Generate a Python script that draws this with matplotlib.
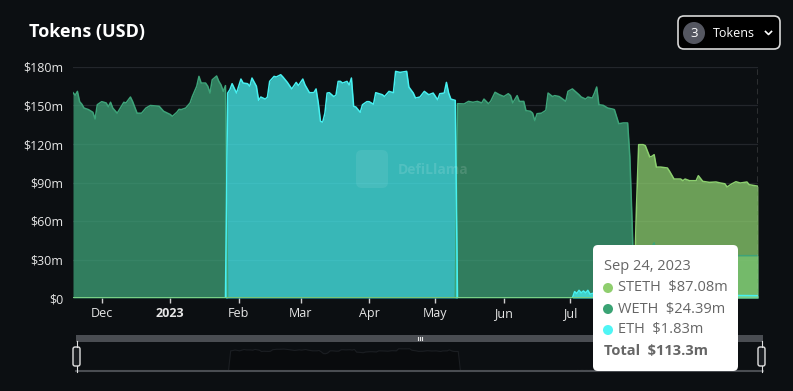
import numpy as np
import pandas as pd
import matplotlib
matplotlib.use('Agg')
import matplotlib.pyplot as plt
import matplotlib.dates as mdates
from matplotlib.patches import FancyBboxPatch, Circle, Rectangle

plt.rcParams['font.family'] = ['Open Sans', 'DejaVu Sans']

# ==============================
# data (USD millions)
# ==============================
weth_dates = ['2022-11-18', '2022-11-19', '2022-11-20', '2022-11-21', '2022-11-22', '2022-11-23',
              '2022-11-25', '2022-11-27', '2022-11-28', '2022-11-29', '2022-12-01', '2022-12-03',
              '2022-12-04', '2022-12-05', '2022-12-06', '2022-12-08', '2022-12-09', '2022-12-11',
              '2022-12-12', '2022-12-14', '2022-12-15', '2022-12-17', '2022-12-19', '2022-12-21',
              '2022-12-23', '2022-12-27', '2022-12-29', '2023-01-01', '2023-01-02', '2023-01-04',
              '2023-01-05', '2023-01-06', '2023-01-08', '2023-01-10', '2023-01-11', '2023-01-13',
              '2023-01-14', '2023-01-15', '2023-01-17', '2023-01-18', '2023-01-19', '2023-01-20',
              '2023-01-22', '2023-01-23', '2023-01-24', '2023-01-25', '2023-01-26', '2023-01-27',
              '2023-05-10', '2023-05-11', '2023-05-14', '2023-05-16', '2023-05-18', '2023-05-20',
              '2023-05-22', '2023-05-23', '2023-05-25', '2023-05-26', '2023-05-28', '2023-05-30',
              '2023-06-01', '2023-06-03', '2023-06-04', '2023-06-05', '2023-06-07', '2023-06-08',
              '2023-06-10', '2023-06-11', '2023-06-13', '2023-06-14', '2023-06-15', '2023-06-16',
              '2023-06-18', '2023-06-20', '2023-06-21', '2023-06-23', '2023-06-24', '2023-06-26',
              '2023-06-27', '2023-06-29', '2023-06-30', '2023-07-02', '2023-07-05', '2023-07-06',
              '2023-07-08', '2023-07-09', '2023-07-11', '2023-07-12', '2023-07-13', '2023-07-14',
              '2023-07-16', '2023-07-18', '2023-07-20', '2023-07-21', '2023-07-23', '2023-07-25',
              '2023-07-27', '2023-07-28', '2023-07-29', '2023-07-30', '2023-08-03', '2023-08-07',
              '2023-08-08', '2023-08-09', '2023-08-20', '2023-09-05', '2023-09-15', '2023-09-24']
weth_vals = [160, 158, 161, 153, 151, 148,
             146.8, 144.7, 139.5, 150.6, 153, 152,
             149, 152.5, 148, 144, 146.8, 152.5,
             152, 156.6, 153, 144, 144, 148,
             150, 149.4, 145.5, 143, 141.6, 144.7,
             147, 146.8, 148, 152, 157, 165,
             172.7, 167.5, 167.5, 165, 159.7, 170,
             173, 168.8, 166, 161, 165.5, 0,
             0, 151.4, 151.2, 153.2, 152.5, 153.2,
             152, 155, 151.4, 153.2, 160.3, 158.4,
             157, 159.2, 157.7, 152, 157.7, 153.2,
             153.2, 146, 145.5, 144, 138.2, 143.6,
             144, 146.2, 159.7, 157, 157.7, 157,
             155.8, 153.2, 161, 162.9, 158.4, 156.6,
             155, 156.6, 155.8, 159.7, 164.4, 150.6,
             150.1, 148, 147.3, 146.8, 135.8, 136.4,
             136.4, 110, 60, 5, 3, 40,
             43, 33, 31, 32, 33, 33]

eth_dates = ['2022-11-18', '2023-01-26', '2023-01-27', '2023-01-28', '2023-01-29', '2023-01-31',
             '2023-02-02', '2023-02-03', '2023-02-05', '2023-02-06', '2023-02-07', '2023-02-09',
             '2023-02-10', '2023-02-11', '2023-02-13', '2023-02-14', '2023-02-15', '2023-02-17',
             '2023-02-18', '2023-02-20', '2023-02-21', '2023-02-23', '2023-02-25', '2023-02-27',
             '2023-02-28', '2023-03-02', '2023-03-03', '2023-03-05', '2023-03-07', '2023-03-08',
             '2023-03-09', '2023-03-10', '2023-03-11', '2023-03-12', '2023-03-13', '2023-03-14',
             '2023-03-16', '2023-03-17', '2023-03-18', '2023-03-19', '2023-03-20', '2023-03-22',
             '2023-03-23', '2023-03-24', '2023-03-25', '2023-03-26', '2023-03-28', '2023-03-29',
             '2023-03-31', '2023-04-01', '2023-04-03', '2023-04-04', '2023-04-07', '2023-04-08',
             '2023-04-10', '2023-04-12', '2023-04-13', '2023-04-15', '2023-04-18', '2023-04-19',
             '2023-04-21', '2023-04-22', '2023-04-24', '2023-04-26', '2023-04-28', '2023-04-30',
             '2023-05-02', '2023-05-03', '2023-05-05', '2023-05-06', '2023-05-07', '2023-05-08',
             '2023-05-10', '2023-05-11', '2023-07-02', '2023-07-03', '2023-07-04', '2023-07-05',
             '2023-07-06', '2023-07-07', '2023-07-08', '2023-07-09', '2023-07-10', '2023-07-12',
             '2023-07-20', '2023-08-10', '2023-09-24']
eth_vals = [0, 0, 159.7, 162.3, 167, 159.7,
            170.6, 167.5, 167, 165, 171.4, 165,
            154, 156.6, 155, 156.6, 168.8, 172.7,
            172.2, 174, 172.2, 168, 162.9, 168,
            165.5, 170.6, 166, 160, 160, 162.9,
            152, 137.7, 137, 144, 159.7, 160,
            157, 158, 168.8, 168.8, 167.5, 168.8,
            166, 171.4, 149.4, 148.8, 144.7, 150.6,
            153, 153, 151, 160, 158.4, 157,
            161, 160, 176.6, 175.8, 176.6, 164.4,
            159.7, 155.8, 156.6, 161, 158.4, 159.7,
            154.5, 159.2, 159.7, 168, 159.7, 155,
            154, 0, 0, 5, 3.5, 6,
            4, 5.5, 4, 6, 3, 4,
            3, 2.5, 1.8]

steth_dates = ['2022-11-18', '2023-07-29', '2023-07-30', '2023-07-31', '2023-08-01', '2023-08-03',
               '2023-08-04', '2023-08-06', '2023-08-07', '2023-08-08', '2023-08-09', '2023-08-11',
               '2023-08-14', '2023-08-15', '2023-08-17', '2023-08-20', '2023-08-21', '2023-08-22',
               '2023-08-24', '2023-08-27', '2023-08-28', '2023-08-30', '2023-09-02', '2023-09-05',
               '2023-09-07', '2023-09-09', '2023-09-10', '2023-09-12', '2023-09-14', '2023-09-16',
               '2023-09-19', '2023-09-20', '2023-09-24']
steth_vals = [0, 0, 10, 70, 119.5, 119.5,
              118.7, 109.9, 110.4, 111.7, 102, 102,
              101.3, 98.7, 92.7, 92.7, 91.4, 92.7,
              91.4, 91.4, 95.3, 90.9, 90.1, 90.4,
              89.6, 89, 86.5, 88.8, 90.6, 89.6,
              90.4, 88.3, 87.1]

# Aug / Sep ticks sit under the tooltip, their labels are hidden there
month_ticks = ['2022-12-01', '2023-01-01', '2023-02-01', '2023-03-01', '2023-04-01',
               '2023-05-01', '2023-06-01', '2023-07-01', '2023-08-01', '2023-09-01']
month_labels = ['Dec', '2023', 'Feb', 'Mar', 'Apr', 'May', 'Jun', 'Jul', '', '']

tooltip_rows = [('STETH', '$87.08m', '#8fce6e'),
                ('WETH', '$24.39m', '#3aa374'),
                ('ETH', '$1.83m', '#4ff5f5')]

# ==============================
# figure
# ==============================
W, H = 793, 391
BG = '#0c0f12'
fig = plt.figure(figsize=(W / 100, H / 100), dpi=100)
fig.patch.set_facecolor(BG)

ax = fig.add_axes([73 / W, 1 - 298 / H, 685 / W, 231 / H])
ax.set_facecolor(BG)

series = [(weth_dates, weth_vals, '#3ea379'),
          (eth_dates, eth_vals, '#47f0f0'),
          (steth_dates, steth_vals, '#8ccf6f')]
for dates, vals, col in series:
    d = pd.to_datetime(dates)
    ax.fill_between(d, vals, 0, color=col, alpha=0.75, lw=0, zorder=2)
    ax.plot(d, vals, color=col, lw=1.1, zorder=3)

ax.set_ylim(0, 180)
ax.set_xlim(pd.Timestamp('2022-11-18'), pd.Timestamp('2023-09-24'))
ax.set_yticks(np.arange(0, 181, 30))
ax.set_yticklabels(['$0'] + [f'${v}m' for v in range(30, 181, 30)])
ax.grid(axis='y', color='#23262b', lw=0.9, zorder=1)
ax.set_axisbelow(True)
for s in ax.spines.values():
    s.set_visible(False)
ax.tick_params(axis='y', length=0, pad=7, labelsize=9, labelcolor='#e6e6e6')
ax.set_xticks(pd.to_datetime(month_ticks))
ax.set_xticklabels(month_labels)
ax.tick_params(axis='x', length=3.5, width=1, color='#d0d0d0', pad=3,
               labelsize=9, labelcolor='#e6e6e6')
for lab in ax.get_xticklabels():
    if lab.get_text() == '2023':
        lab.set_fontweight('bold')
ax.axvline(pd.Timestamp('2023-09-24'), color='#b5b5b5', lw=1, ls=(0, (4, 3)), zorder=4)

# mini chart in the brush
bx = fig.add_axes([76 / W, 1 - 371 / H, 685 / W, 29 / H])
bx.set_facecolor('#0e1114')
bd = pd.to_datetime(eth_dates)
bx.fill_between(bd, eth_vals, 0, color='#090b0d', lw=0)
bx.plot(bd, eth_vals, color='#1b1e22', lw=0.8)
bx.set_xlim(pd.Timestamp('2022-11-18'), pd.Timestamp('2023-09-24'))
bx.set_ylim(0, 230)
bx.axis('off')

# overlay in pixel coords
ov = fig.add_axes([0, 0, 1, 1], zorder=5)
ov.set_xlim(0, W)
ov.set_ylim(H, 0)
ov.axis('off')
ov.patch.set_alpha(0)

ov.text(29, 32, 'Tokens (USD)', color='white', fontsize=13, fontweight='bold', va='center')

# token selector button
ov.add_patch(FancyBboxPatch((678, 16), 102, 33, boxstyle='round,pad=0,rounding_size=6',
                            fc='#000000', ec='#d8d8d8', lw=1.2))
ov.add_patch(Circle((694, 33), 11, fc='#555761', ec='none'))
ov.text(694, 33.5, '3', color='white', fontsize=9.5, ha='center', va='center')
ov.text(713, 33.5, 'Tokens', color='white', fontsize=9, va='center')
ov.plot([765.5, 768.5, 771.5], [31.5, 34.5, 31.5], color='white', lw=1.2)

# watermark
ov.add_patch(FancyBboxPatch((356, 150), 32, 38, boxstyle='round,pad=0,rounding_size=6',
                            fc='white', ec='none', alpha=0.08))
ov.text(398, 170, 'DefiLlama', color='white', alpha=0.13, fontsize=10, fontweight='bold', va='center')

# brush frame
ov.add_patch(Rectangle((76, 335), 687, 6.5, fc='#4a4d52', ec='none'))
ov.plot([76, 763], [371, 371], color='#4a4d52', lw=1.5)
for hx in (76.5, 761.5):
    ov.add_patch(FancyBboxPatch((hx - 3.5, 347), 7, 19, boxstyle='round,pad=0,rounding_size=2',
                                fc='#1a1d21', ec='#e0e0e0', lw=1))
    ov.plot([hx, hx], [341, 347], color='#e0e0e0', lw=0.8)
    ov.plot([hx, hx], [366, 372], color='#e0e0e0', lw=0.8)
for gx in (417.5, 419.5, 421.5):
    ov.plot([gx, gx], [336.5, 339.5], color='#e8e8e8', lw=0.8)

# tooltip
ov.add_patch(FancyBboxPatch((593, 245), 145, 126, boxstyle='round,pad=0,rounding_size=5',
                            fc='white', ec='none', zorder=10))
ov.text(604, 267, 'Sep 24, 2023', color='#666666', fontsize=10.5, va='center', zorder=11)
for i, (name, val, col) in enumerate(tooltip_rows):
    yy = 288 + i * 21
    ov.add_patch(Circle((608, yy), 5, fc=col, ec='none', zorder=11))
    ov.text(618, yy, name + '  ' + val, color='#666666', fontsize=10.5, va='center', zorder=11)
ov.text(604, 351, 'Total  $113.3m', color='#666666', fontsize=10.5, fontweight='bold',
        va='center', zorder=11)

fig.savefig('out.png', dpi=100, facecolor=BG)
